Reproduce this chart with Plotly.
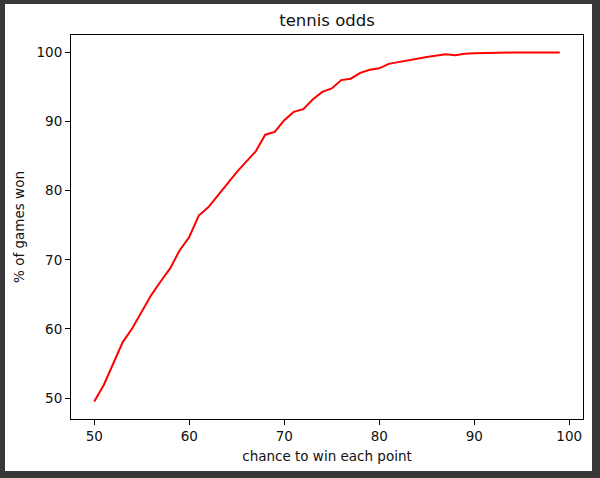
import plotly.graph_objects as go

point_chance = list(range(50, 100))
games_won_pct = [
    49.5, 51.9, 55.0, 58.1, 60.1, 62.6, 64.9, 66.9, 68.8, 71.4,
    73.3, 76.4, 77.6, 79.3, 81.0, 82.7, 84.2, 85.7, 88.1, 88.5,
    90.2, 91.4, 91.8, 93.2, 94.3, 94.8, 96.0, 96.2, 97.05, 97.5,
    97.7, 98.35, 98.6, 98.8, 99.1, 99.35, 99.5, 99.75, 99.6, 99.82,
    99.9, 99.94, 99.96, 99.97, 99.98, 99.99, 99.99, 100.0, 100.0, 100.0,
]
x_ticks = [50, 60, 70, 80, 90, 100]
y_ticks = [50, 60, 70, 80, 90, 100]

W, H = 600, 478
L, R, T, B = 71, 583, 35, 419
pw, ph = R - L, B - T

def px_x(p):
    return (p - L) / pw

def px_y(p):
    return (B - p) / ph

fig = go.Figure()
fig.add_trace(go.Scatter(x=point_chance, y=games_won_pct, mode="lines",
                         line=dict(color="#ff0000", width=2), showlegend=False))

font = "DejaVu Sans, sans-serif"
axis_common = dict(showgrid=False, zeroline=False, showline=True, linecolor="black",
                   linewidth=1, mirror=True, ticks="outside", ticklen=5, tickwidth=1,
                   tickcolor="black", tickfont=dict(family=font, size=13.5, color="#111"))

fig.update_layout(
    width=W, height=H,
    margin=dict(l=L, r=W - R, t=T, b=H - B, pad=0),
    paper_bgcolor="#383838", plot_bgcolor="white",
    title=dict(text="tennis odds", x=0.5, xref="paper", y=1 - 20 / H, yanchor="middle",
               font=dict(family=font, size=16.5, color="#111")),
    xaxis=dict(range=[47.55, 101.45], tickvals=x_ticks,
               title=dict(text="chance to win each point", standoff=8,
                          font=dict(family=font, size=13.5, color="#111")),
               **axis_common),
    yaxis=dict(range=[46.975, 102.525], tickvals=y_ticks,
               title=dict(text="% of games won", standoff=8,
                          font=dict(family=font, size=13.5, color="#111")),
               **axis_common),
    shapes=[dict(type="rect", xref="paper", yref="paper", layer="below",
                 x0=px_x(5), x1=px_x(592), y0=px_y(471), y1=px_y(4),
                 fillcolor="white", line=dict(width=0))],
)

fig.write_html("out.html",
               config={"displayModeBar": False},
               post_script="document.body.style.margin='0';document.body.style.padding='0';document.body.style.overflow='hidden';")
